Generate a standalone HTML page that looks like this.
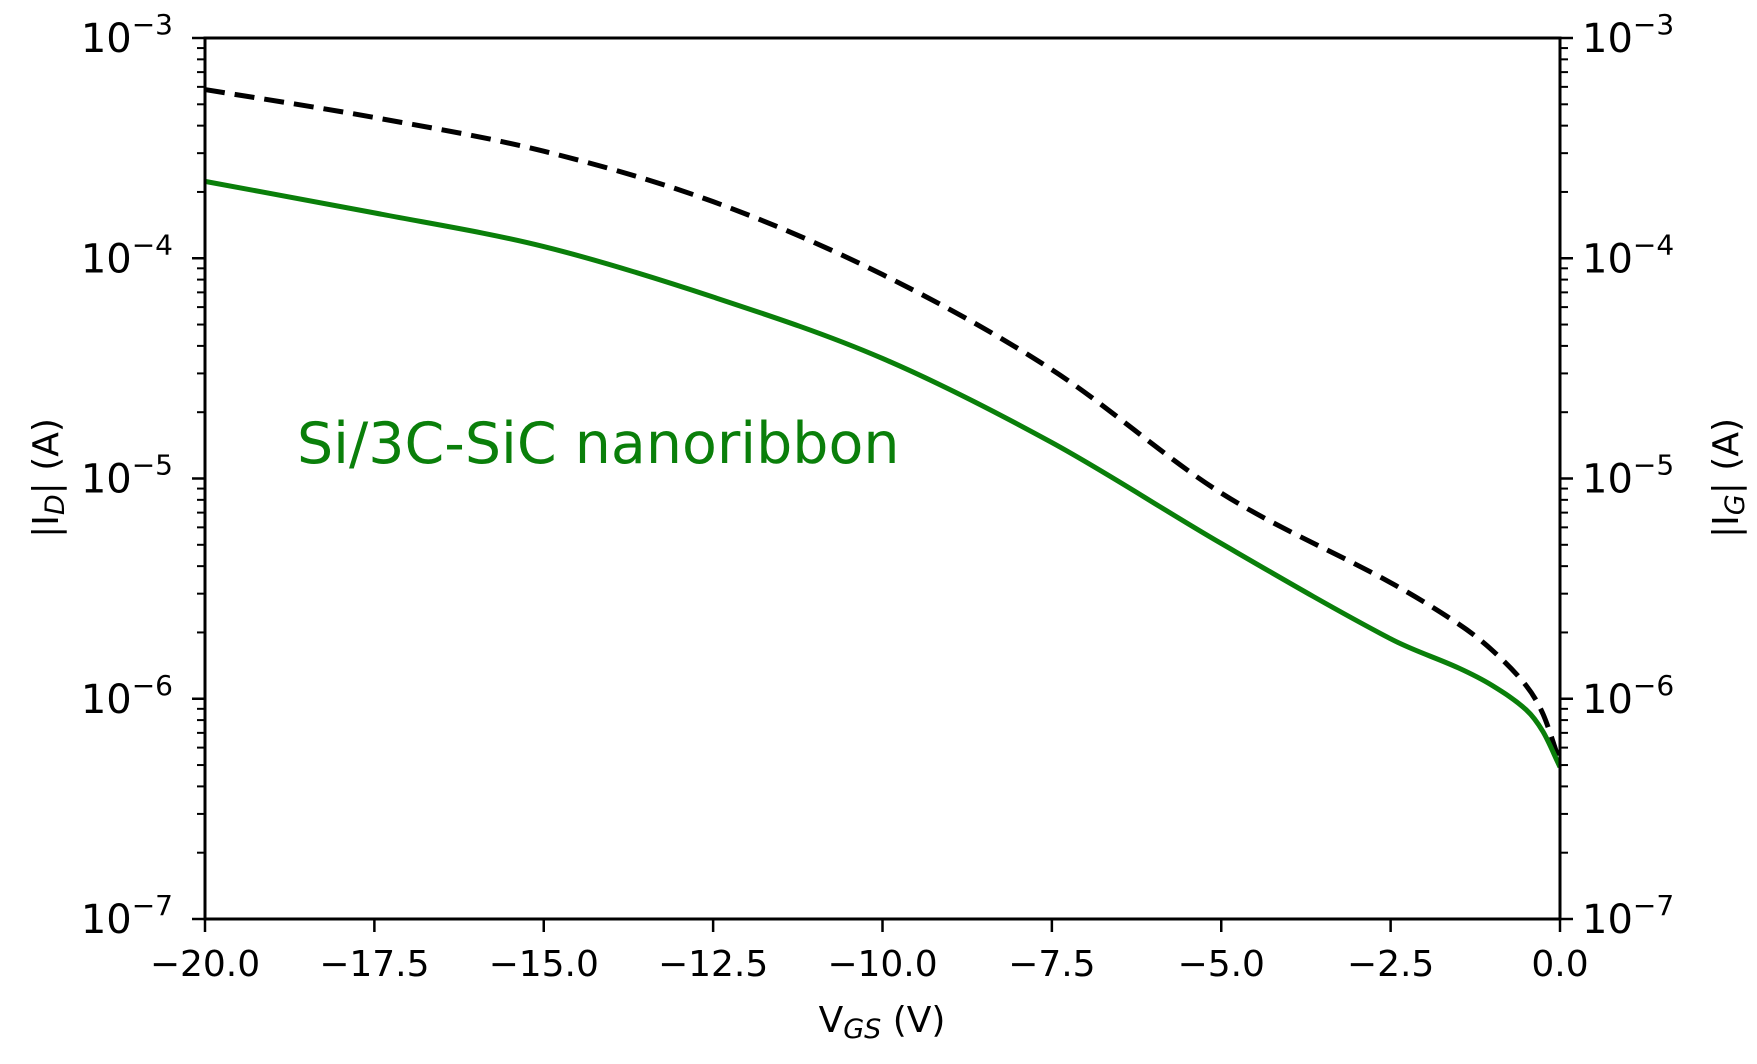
<!DOCTYPE html>
<html><head><meta charset="utf-8"><style>
body{margin:0;background:#fff}
svg text{font-family:"DejaVu Sans","Liberation Sans",sans-serif;fill:#000}
</style></head><body>
<svg id="chart" width="1757" height="1059" xmlns="http://www.w3.org/2000/svg"></svg>
<script>
const vgs=[-20,-17.5,-15,-12.5,-10,-7.5,-5,-2.5,-1.5,-1,-0.5,-0.25,0];
const logId=[-3.651,-3.794,-3.947,-4.176,-4.455,-4.837,-5.295,-5.728,-5.86,-5.94,-6.05,-6.15,-6.31];
const logIg=[-3.234,-3.361,-3.514,-3.743,-4.074,-4.506,-5.066,-5.473,-5.66,-5.78,-5.94,-6.07,-6.29];
const xTicks=[-20,-17.5,-15,-12.5,-10,-7.5,-5,-2.5,0];
const yDecades=[-3,-4,-5,-6,-7];

const L=205,R=1560,T=38,B=919;
const sx=v=>L+(v+20)/20*(R-L);
const sy=lg=>T+(-3-lg)/4*(B-T);
const NS='http://www.w3.org/2000/svg';
const svg=document.getElementById('chart');
function mk(tag,attrs,parent){const e=document.createElementNS(NS,tag);for(const k in attrs)e.setAttribute(k,attrs[k]);(parent||svg).appendChild(e);return e;}

function path(xs,ys){
  const p=xs.map((x,i)=>[sx(x),sy(ys[i])]);
  const n=p.length;
  const m=p.map((q,i)=>{
    const a=p[Math.max(0,i-1)],b=p[Math.min(n-1,i+1)];
    return (b[1]-a[1])/(b[0]-a[0]);
  });
  let d='M'+p[0][0]+','+p[0][1];
  for(let i=0;i<n-1;i++){
    const dx=p[i+1][0]-p[i][0];
    const c1=[p[i][0]+dx/3,p[i][1]+m[i]*dx/3];
    const c2=[p[i+1][0]-dx/3,p[i+1][1]-m[i+1]*dx/3];
    d+=` C${c1[0]},${c1[1]} ${c2[0]},${c2[1]} ${p[i+1][0]},${p[i+1][1]}`;
  }
  return d;
}
const g=mk('path',{d:path(vgs,logIg),fill:'none',stroke:'#000','stroke-width':5,'stroke-dasharray':'20,10'});


const d=mk('path',{d:path(vgs,logId),fill:'none',stroke:'#0a7f0a','stroke-width':5});



const frame=mk('rect',{x:L,y:T,width:R-L,height:B-T,fill:'none',stroke:'#000','stroke-width':3});



xTicks.forEach(v=>{
  const x=sx(v);
  mk('line',{x1:x,y1:B,x2:x,y2:B+13,stroke:'#000','stroke-width':2.5});
  const t=mk('text',{x:x,y:B+57,'text-anchor':'middle','font-size':36});
  t.textContent=(v<0?'\u2212':'')+Math.abs(v).toFixed(1);
  
  
});
yDecades.forEach(e=>{
  const y=sy(e);
  mk('line',{x1:L-13,y1:y,x2:L,y2:y,stroke:'#000','stroke-width':2.5});
  mk('line',{x1:R,y1:y,x2:R+13,y2:y,stroke:'#000','stroke-width':2.5});
  if(e>-7)for(let k=2;k<=9;k++){const yy=sy(e-1+Math.log10(k));
    mk('line',{x1:L-8,y1:yy,x2:L,y2:yy,stroke:'#000','stroke-width':2});
    mk('line',{x1:R,y1:yy,x2:R+8,y2:yy,stroke:'#000','stroke-width':2});}
  const t1=mk('text',{x:L-32,y:y+14,'text-anchor':'end','font-size':40});
  t1.innerHTML='10<tspan dy="-18" font-size="28">\u2212'+(-e)+'</tspan>';
  
  
  const t2=mk('text',{x:R+22,y:y+14,'font-size':40});
  t2.innerHTML='10<tspan dy="-18" font-size="28">\u2212'+(-e)+'</tspan>';
  
  
});
</script>
<svg style="position:absolute;left:0;top:0" width="1757" height="1059" xmlns="http://www.w3.org/2000/svg">
<text x="882" y="1032" text-anchor="middle" font-size="36">V<tspan font-style="italic" font-size="27" dy="6">GS</tspan><tspan dy="-6"> (V)</tspan></text>
<text transform="translate(58,478) rotate(-90)" text-anchor="middle" font-size="36">|I<tspan font-style="italic" font-size="27" dy="6">D</tspan><tspan dy="-6">| (A)</tspan></text>
<text transform="translate(1738,478) rotate(-90)" text-anchor="middle" font-size="36">|I<tspan font-style="italic" font-size="27" dy="6">G</tspan><tspan dy="-6">| (A)</tspan></text>
<text x="297" y="463" font-size="57" style="fill:#0a7f0a">Si/3C-SiC nanoribbon</text>
</svg>
</body></html>
